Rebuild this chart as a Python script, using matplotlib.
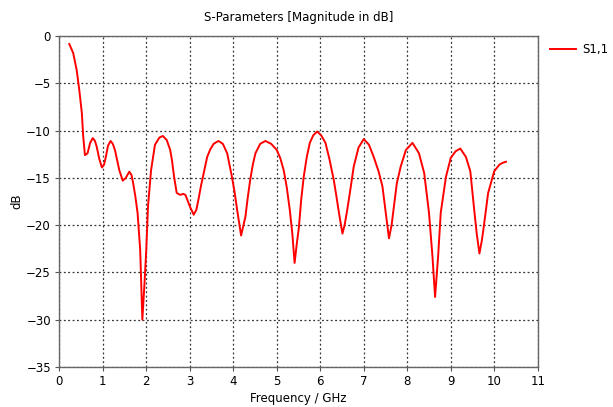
import matplotlib
matplotlib.use("Agg")
import matplotlib.pyplot as plt

# S1,1 magnitude
freq_ghz = [0.23, 0.32, 0.40, 0.46, 0.52, 0.55, 0.59, 0.65, 0.71, 0.77,
            0.82, 0.86, 0.92, 0.98, 1.03, 1.07, 1.12, 1.18, 1.23, 1.28,
            1.33, 1.38, 1.46, 1.53, 1.61, 1.66, 1.70, 1.75, 1.80, 1.86,
            1.91, 1.96, 2.00, 2.04, 2.11, 2.20, 2.30, 2.38, 2.47, 2.55,
            2.59, 2.64, 2.70, 2.78, 2.85, 2.90, 3.00, 3.09, 3.15, 3.20,
            3.26, 3.32, 3.40, 3.47, 3.55, 3.66, 3.76, 3.86, 3.97, 4.03,
            4.09, 4.18, 4.28, 4.33, 4.39, 4.45, 4.51, 4.62, 4.74, 4.87,
            5.00, 5.08, 5.16, 5.23, 5.30, 5.36, 5.41, 5.46, 5.51, 5.56,
            5.62, 5.69, 5.76, 5.84, 5.93, 6.02, 6.12, 6.21, 6.31, 6.37,
            6.43, 6.51, 6.56, 6.62, 6.70, 6.77, 6.88, 7.00, 7.12, 7.23,
            7.34, 7.43, 7.50, 7.58, 7.64, 7.70, 7.76, 7.85, 7.97, 8.12,
            8.27, 8.39, 8.50, 8.58, 8.64, 8.71, 8.77, 8.89, 9.00, 9.11,
            9.22, 9.35, 9.45, 9.54, 9.60, 9.66, 9.72, 9.77, 9.86, 10.00,
            10.12, 10.20, 10.27]
s11_db = [-0.85, -1.8, -3.6, -5.7, -8.2, -10.6, -12.6, -12.4, -11.3, -10.8,
          -11.1, -11.7, -13.0, -13.9, -13.6, -12.8, -11.6, -11.1, -11.4, -12.05,
          -13.1, -14.2, -15.3, -15.0, -14.35, -14.7, -15.6, -17.0, -18.7, -22.6,
          -30.0, -26.1, -22.6, -18.0, -14.2, -11.5, -10.75, -10.57, -11.0, -12.05,
          -13.1, -14.9, -16.6, -16.8, -16.7, -16.8, -18.0, -18.9, -18.4, -17.3,
          -15.8, -14.5, -12.8, -12.0, -11.4, -11.1, -11.4, -12.4, -14.9, -16.5,
          -18.4, -21.1, -19.1, -17.2, -15.2, -13.6, -12.4, -11.4, -11.1, -11.4,
          -12.05, -12.9, -14.2, -16.0, -18.4, -21.0, -24.0, -22.0, -20.2, -17.4,
          -14.9, -12.8, -11.3, -10.5, -10.1, -10.5, -11.3, -13.0, -15.2, -16.9,
          -18.7, -20.9, -20.0, -18.4, -16.0, -13.8, -11.8, -10.9, -11.5, -12.8,
          -14.3, -15.9, -18.5, -21.4, -20.0, -17.8, -15.6, -13.8, -12.05, -11.3,
          -12.4, -14.5, -18.7, -23.3, -27.6, -23.3, -18.7, -14.9, -12.9, -12.2,
          -11.9, -12.8, -14.3, -18.4, -21.0, -23.0, -21.5, -19.8, -16.6, -14.3,
          -13.6, -13.4, -13.3]

x_ticks = list(range(0, 12))
y_ticks = [0, -5, -10, -15, -20, -25, -30, -35]

plt.rcParams['font.family'] = ['DejaVu Sans']
fig = plt.figure(figsize=(6.13, 4.07), dpi=100)
ax = fig.add_axes([0.0967, 0.0983, 0.7805, 0.8133])

ax.plot(freq_ghz, s11_db, color='#ff0000', linewidth=1.4, label='S1,1')

ax.set_xlim(0, 11)
ax.set_ylim(-35, 0)
ax.set_xticks(x_ticks)
ax.set_yticks(y_ticks)
ax.tick_params(labelsize=8.5, length=3, width=0.8, color='#555555', pad=3)
ax.grid(True, color='#333333', linestyle=(0, (1.5, 2)), linewidth=0.9)
for sp in ax.spines.values():
    sp.set_color('#666666')
    sp.set_linewidth(1.0)

ax.set_title('S-Parameters [Magnitude in dB]', fontsize=8.5, pad=11)
ax.set_xlabel('Frequency / GHz', fontsize=8.5, labelpad=3)
ax.set_ylabel('dB', fontsize=8.5, labelpad=2)

ax.legend(loc='upper left', bbox_to_anchor=(1.01, 1.0), frameon=False,
          fontsize=8.5, handlelength=2.2, handletextpad=0.6, borderaxespad=0.2)

fig.savefig('out.png', dpi=100)
